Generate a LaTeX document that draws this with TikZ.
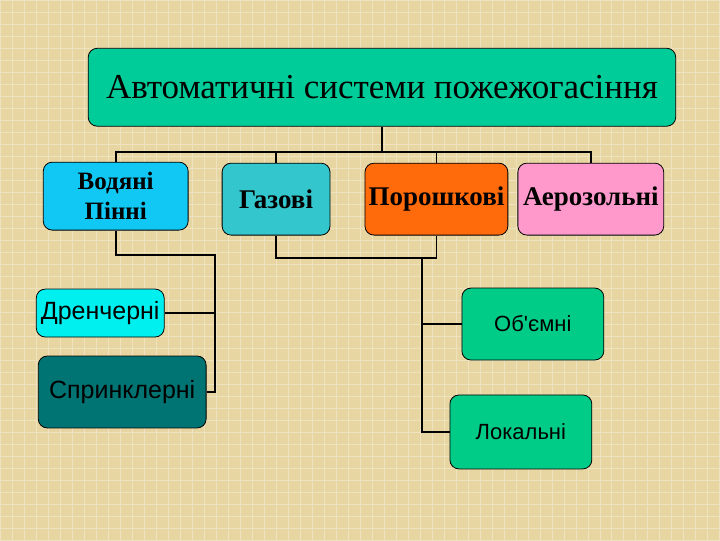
\documentclass[tikz,border=0pt]{standalone}
\usepackage{fontspec}
\setmainfont{Liberation Serif}
\newfontfamily\sansf{Liberation Sans}
\begin{document}
\begin{tikzpicture}[x=1pt,y=-1pt,
 box/.style={draw=black,line width=0.8pt,rounded corners=9pt,inner sep=0pt},
 ln/.style={line width=1.8pt}]
\definecolor{bg}{HTML}{E8D6A2}
\definecolor{topc}{HTML}{00CC99}
\definecolor{vod}{HTML}{11C8F4}
\definecolor{gaz}{HTML}{33C6CC}
\definecolor{por}{HTML}{FF6A0A}
\definecolor{aer}{HTML}{FF99CC}
\definecolor{dren}{HTML}{00F0F0}
\definecolor{spr}{HTML}{007373}
\definecolor{grn}{HTML}{00CC88}
\fill[bg] (0,0) rectangle (720,540);
\foreach \i in {0,12,...,720} \draw[white!30!bg,line width=0.6pt] (\i,0) -- (\i,540);
\foreach \i in {0,12,...,540} \draw[white!30!bg,line width=0.6pt] (0,\i) -- (720,\i);
\useasboundingbox (0,0) rectangle (720,540);
\node[box,fill=topc,minimum width=588pt,minimum height=78pt,font=\fontsize{35}{38}\selectfont] (top) at (382,87) {Автоматичні системи пожежогасіння};
\node[box,fill=vod,minimum width=145pt,minimum height=68pt,align=center,font=\fontsize{25}{30}\selectfont\bfseries] (vod) at (115.5,196) {Водяні\\Пінні};
\node[box,fill=gaz,minimum width=108pt,minimum height=72pt,font=\fontsize{27}{30}\selectfont\bfseries] (gaz) at (276,199) {Газові};
\node[box,fill=por,minimum width=143pt,minimum height=72pt,font=\fontsize{27}{30}\selectfont\bfseries] (por) at (436.5,199) {Порошкові};
\node[box,fill=aer,minimum width=146pt,minimum height=72pt,font=\fontsize{27}{30}\selectfont\bfseries] (aer) at (591,199) {Аерозольні};
\node[box,fill=dren,minimum width=128pt,minimum height=48pt,font=\sansf\fontsize{25}{28}\selectfont] (dren) at (100,313) {Дренчерні};
\node[box,fill=spr,minimum width=168pt,minimum height=72pt,font=\sansf\fontsize{25}{28}\selectfont] (spr) at (122,392) {Спринклерні};
\node[box,fill=grn,minimum width=142pt,minimum height=72pt,font=\sansf\fontsize{22}{24}\selectfont] (obj) at (533,324) {Об'ємні};
\node[box,fill=grn,minimum width=142pt,minimum height=74pt,font=\sansf\fontsize{22}{24}\selectfont] (lok) at (521,432) {Локальні};
\coordinate (h) at (382,152);
\draw[ln] (top.south) -- (h);
\draw[ln] (vod.north) |- (h) -| (aer.north);
\draw[ln] (gaz.north) -- (gaz.north |- h);
\draw[ln] (por.north) -- (por.north |- h);
\coordinate (v) at (215,255);
\draw[ln] (vod.south) |- (v) |- (spr.east);
\draw[ln] (dren.east) -- (dren.east -| v);
\coordinate (w) at (422,258);
\draw[ln] (gaz.south) |- (w) -| (por.south);
\draw[ln] (w) |- (lok.west);
\draw[ln] (obj.west) -- (obj.west -| w);
\end{tikzpicture}
\end{document}
